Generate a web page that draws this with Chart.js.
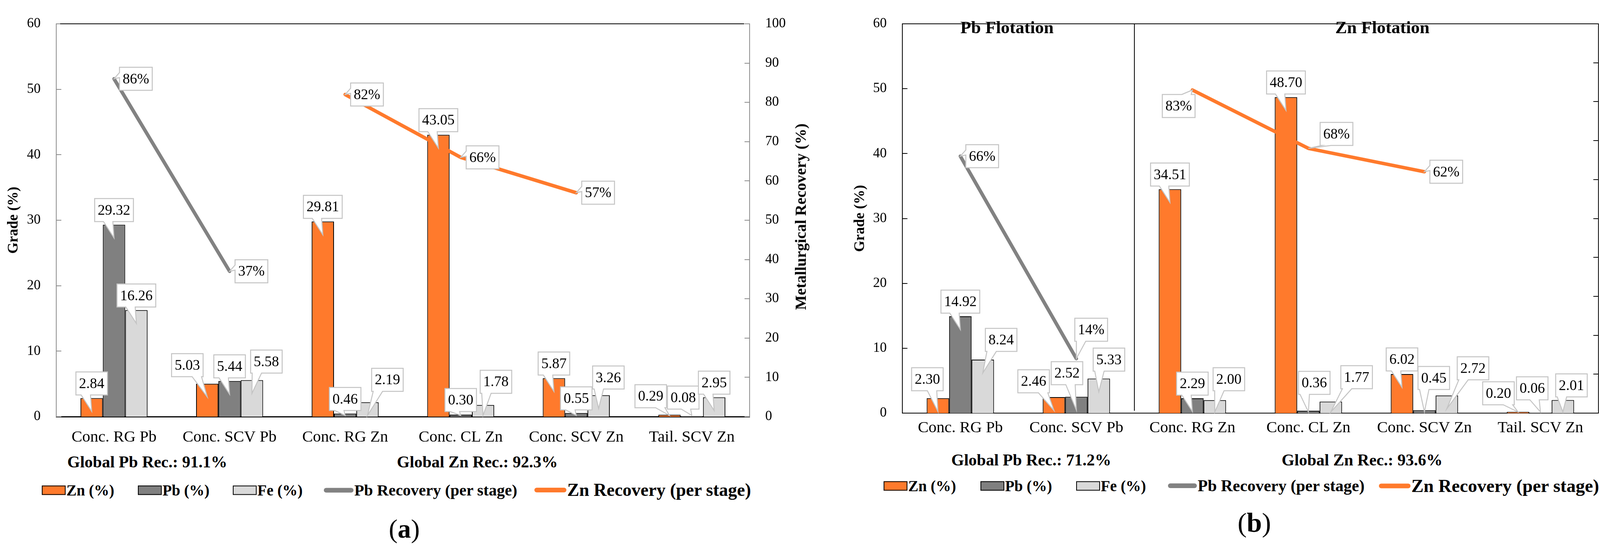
<!DOCTYPE html>
<html>
<head>
<meta charset="utf-8">
<script src="https://cdn.jsdelivr.net/npm/chart.js@4.4.1/dist/chart.umd.min.js"></script>
<style>
  html, body { margin: 0; padding: 0; background: #fff; }
  body { position: relative; width: 4272px; height: 1406px; overflow: hidden; font-family: 'Liberation Serif', serif; color: #000; }
  .wrap { position: absolute; }
  .t { position: absolute; transform: translate(-50%, -50%); white-space: nowrap; line-height: 1; }
  .rot { transform: translate(-50%, -50%) rotate(-90deg); }
  .b { font-weight: bold; }
  .lg { position: absolute; display: flex; align-items: center; transform: translateY(-50%); font-weight: bold; white-space: nowrap; line-height: 1; }
  .sw { display: inline-block; box-sizing: border-box; width: 61px; height: 24px; border: 2px solid #000; margin-right: 2px; }
  .ln { display: inline-block; width: 76px; height: 12px; border-radius: 6px; margin-right: 2px; }
</style>
</head>
<body>

<div class="wrap" style="left:0; top:0; width:2136px; height:1160px"><canvas id="chartA"></canvas></div>
<div class="wrap" style="left:2140px; top:0; width:2132px; height:1150px"><canvas id="chartB"></canvas></div>

<!-- panel (a) texts -->
<div class="t rot b" style="left:2050px; top:555px; font-size:40px">Metallurgical Recovery (%)</div>
<div class="t b" style="left:377px; top:1183px; font-size:42px">Global Pb Rec.: 91.1%</div>
<div class="t b" style="left:1222px; top:1183px; font-size:42px">Global Zn Rec.: 92.3%</div>
<div class="lg" style="left:107px; top:1255px; font-size:39px"><span class="sw" style="background:#FF7A2C"></span>Zn (%)</div>
<div class="lg" style="left:353px; top:1255px; font-size:39px"><span class="sw" style="background:#808080"></span>Pb (%)</div>
<div class="lg" style="left:596px; top:1255px; font-size:39px"><span class="sw" style="background:#D9D9D9"></span>Fe (%)</div>
<div class="lg" style="left:829px; top:1255px; font-size:41px"><span class="ln" style="background:#828282"></span>Pb Recovery (per stage)</div>
<div class="lg" style="left:1368px; top:1255px; font-size:46px"><span class="ln" style="background:#FF7A2C; width:82px"></span>Zn Recovery (per stage)</div>
<div class="t" style="left:1035px; top:1354px; font-size:68px">(<b>a</b>)</div>

<!-- panel (b) texts -->
<div class="t rot b" style="left:4228px; top:545px; font-size:39px">Metallurgical recovery (%)</div>
<div class="t b" style="left:2578px; top:70px; font-size:45px">Pb Flotation</div>
<div class="t b" style="left:3539px; top:70px; font-size:45px">Zn Flotation</div>
<div class="t b" style="left:2640px; top:1178px; font-size:42px">Global Pb Rec.: 71.2%</div>
<div class="t b" style="left:3487px; top:1178px; font-size:42px">Global Zn Rec.: 93.6%</div>
<div class="lg" style="left:2262px; top:1244px; font-size:39px"><span class="sw" style="background:#FF7A2C"></span>Zn (%)</div>
<div class="lg" style="left:2510px; top:1244px; font-size:39px"><span class="sw" style="background:#808080"></span>Pb (%)</div>
<div class="lg" style="left:2755px; top:1244px; font-size:39px"><span class="sw" style="background:#D9D9D9"></span>Fe (%)</div>
<div class="lg" style="left:2990px; top:1244px; font-size:42px"><span class="ln" style="background:#828282; width:74px"></span>Pb Recovery (per stage)</div>
<div class="lg" style="left:3530px; top:1244px; font-size:47px"><span class="ln" style="background:#FF7A2C; width:81px"></span>Zn Recovery (per stage)</div>
<div class="t" style="left:3211px; top:1339px; font-size:70px">(<b>b</b>)</div>

<script>
// categories shared by both panels
var categories = ['Conc. RG Pb', 'Conc. SCV Pb', 'Conc. RG Zn', 'Conc. CL Zn', 'Conc. SCV Zn', 'Tail. SCV Zn'];

// panel (a): grades (%) and per stage recovery (%)
var znGradeA = [2.84, 5.03, 29.81, 43.05, 5.87, 0.29];
var pbGradeA = [29.32, 5.44, 0.46, 0.30, 0.55, 0.08];
var feGradeA = [16.26, 5.58, 2.19, 1.78, 3.26, 2.95];
var pbRecA = [86, 37, null, null, null, null];
var znRecA = [null, null, 82, 66, 57, null];

// panel (b)
var znGradeB = [2.30, 2.46, 34.51, 48.70, 6.02, 0.20];
var pbGradeB = [14.92, 2.52, 2.29, 0.36, 0.45, 0.06];
var feGradeB = [8.24, 5.33, 2.00, 1.77, 2.72, 2.01];
var pbRecB = [66, 14, null, null, null, null];
var znRecB = [null, null, 83, 68, 62, null];

var ORANGE = '#FF7A2C';
var FONT = "'Liberation Serif', serif";

// callout label nudges [dx, dy] per dataset (Zn, Pb, Fe, Pb rec, Zn rec)
var nudgeA = [
    [[0, 0], [-51, -10], [0, 0], [0, 0], [0, 0], [-48, -10]],
    [[0, 0], [0, 0], [0, 0], [0, 0], [0, 0], [-22, -10]],
    [[0, 0], [37, -10], [51, -20], [33, -22], [25, -8], [0, 0]],
    [],
    []
];
var nudgeB = [
    [[-27, -11], [-52, -3], [0, 0], [0, 0], [0, 0], [-50, -10]],
    [[0, 0], [-24, -23], [0, 0], [15, -34], [24, -45], [-21, -25]],
    [[47, -13], [26, -11], [36, -16], [66, -25], [67, -32], [22, 0]],
    [[0, 0], [-18, -74]],
    [null, null, [-91, 41], [16, -37], [0, 0]]
];

function clamp(v, lo, hi) {
    return Math.max(lo, Math.min(hi, v));
}

function drawCallout(ctx, box, tip, text) {
    var l = box.l, r = box.r, t = box.t, b = box.b;
    var edge;
    if (tip.y > b) edge = 'bottom';
    else if (tip.y < t) edge = 'top';
    else if (tip.x < l) edge = 'left';
    else edge = 'right';

    var x0 = clamp(tip.x - 27, l + 4, r - 28), x1 = x0 + 24;
    var y0 = clamp(tip.y - 16, t + 4, b - 17), y1 = y0 + 13;

    ctx.beginPath();
    ctx.moveTo(l, t);
    if (edge === 'top') { ctx.lineTo(x0, t); ctx.lineTo(tip.x, tip.y); ctx.lineTo(x1, t); }
    ctx.lineTo(r, t);
    if (edge === 'right') { ctx.lineTo(r, y0); ctx.lineTo(tip.x, tip.y); ctx.lineTo(r, y1); }
    ctx.lineTo(r, b);
    if (edge === 'bottom') { ctx.lineTo(x1, b); ctx.lineTo(tip.x, tip.y); ctx.lineTo(x0, b); }
    ctx.lineTo(l, b);
    if (edge === 'left') { ctx.lineTo(l, y1); ctx.lineTo(tip.x, tip.y); ctx.lineTo(l, y0); }
    ctx.closePath();
    ctx.fillStyle = '#fff';
    ctx.fill();
    ctx.lineWidth = 2.5;
    ctx.strokeStyle = '#c4c4c4';
    ctx.stroke();

    ctx.fillStyle = '#000';
    ctx.fillText(text, (l + r) / 2, (t + b) / 2 + 2);
}

function panelPlugin(cfg) {
    return {
        id: 'panelDecor',
        beforeDatasetsDraw: function(chart) {
            var ctx = chart.ctx, area = chart.chartArea;
            var ya = chart.scales.y, yb = chart.scales.y1;
            ctx.save();
            ctx.lineWidth = 2;
            ctx.strokeStyle = cfg.axisColor;
            ctx.beginPath();
            ya.ticks.forEach(function(t) {
                var py = Math.round(ya.getPixelForValue(t.value));
                ctx.moveTo(area.left, py);
                ctx.lineTo(area.left + 13, py);
            });
            yb.ticks.forEach(function(t) {
                var py = Math.round(yb.getPixelForValue(t.value));
                ctx.moveTo(area.right - 13, py);
                ctx.lineTo(area.right, py);
            });
            ctx.stroke();

            ctx.strokeStyle = '#000';
            ctx.lineWidth = cfg.topWidth;
            ctx.beginPath();
            ctx.moveTo(area.left + cfg.topInset[0], area.top);
            ctx.lineTo(area.right - cfg.topInset[1], area.top);
            ctx.stroke();

            if (cfg.divider) {
                var xs = chart.scales.x;
                var dx = Math.round((xs.getPixelForValue(1) + xs.getPixelForValue(2)) / 2);
                ctx.lineWidth = 2;
                ctx.beginPath();
                ctx.moveTo(dx, area.top);
                ctx.lineTo(dx, area.bottom - 6);
                ctx.stroke();
            }
            ctx.restore();
        },
        afterDatasetsDraw: function(chart) {
            var ctx = chart.ctx;
            ctx.save();
            ctx.font = '37px ' + FONT;
            ctx.textAlign = 'center';
            ctx.textBaseline = 'middle';
            chart.data.datasets.forEach(function(ds, di) {
                var meta = chart.getDatasetMeta(di);
                ds.data.forEach(function(v, i) {
                    if (v === null || v === undefined) return;
                    var el = meta.data[i];
                    var nd = (cfg.nudge[di] && cfg.nudge[di][i]) || [0, 0];
                    var isLine = ds.type === 'line';
                    var text = isLine ? v + '%' : v.toFixed(2);
                    var w = ctx.measureText(text).width + 16, h = 59;
                    var box, tip;
                    if (isLine) {
                        var l = el.x + 14 + nd[0], cy = el.y + nd[1];
                        box = { l: l, r: l + w, t: cy - h / 2, b: cy + h / 2 };
                        tip = { x: el.x, y: el.y };
                    } else {
                        var cx = el.x + nd[0], bb = el.y - 8 + nd[1];
                        box = { l: cx - w / 2, r: cx + w / 2, t: bb - h, b: bb };
                        tip = { x: el.x, y: Math.min(el.y + 34, el.base - 3) };
                    }
                    drawCallout(ctx, box, tip, text);
                });
            });
            ctx.restore();
        }
    };
}

function buildChart(id, p) {
    var ctx = document.getElementById(id);
    return new Chart(ctx, {
        type: 'bar',
        data: {
            labels: categories,
            datasets: [
                { label: 'Zn (%)', data: p.zn, backgroundColor: ORANGE, borderColor: '#000', borderWidth: 2, yAxisID: 'y', order: 1 },
                { label: 'Pb (%)', data: p.pb, backgroundColor: '#808080', borderColor: '#000', borderWidth: 2, yAxisID: 'y', order: 1 },
                { label: 'Fe (%)', data: p.fe, backgroundColor: '#D9D9D9', borderColor: '#000', borderWidth: 2, yAxisID: 'y', order: 1 },
                { type: 'line', label: 'Pb Recovery (per stage)', data: p.pbRec, borderColor: '#828282', borderWidth: 9,
                  borderCapStyle: 'round', pointRadius: 0, tension: 0, yAxisID: 'y1', order: 0 },
                { type: 'line', label: 'Zn Recovery (per stage)', data: p.znRec, borderColor: ORANGE, borderWidth: 9,
                  borderCapStyle: 'round', pointRadius: 0, tension: 0, yAxisID: 'y1', order: 0 }
            ]
        },
        options: {
            responsive: true,
            maintainAspectRatio: false,
            animation: false,
            devicePixelRatio: 1,
            categoryPercentage: 0.58,
            barPercentage: 1.0,
            layout: { padding: { top: p.top, left: 0, right: 0, bottom: 0 } },
            plugins: { legend: { display: false }, tooltip: { enabled: false } },
            scales: {
                x: {
                    grid: { display: false, drawTicks: false },
                    border: { display: true, color: '#000', width: p.bottomWidth },
                    ticks: { font: { family: FONT, size: 41 }, color: '#000', padding: p.xPad, maxRotation: 0, autoSkip: false },
                    afterFit: function(s) { s.height = p.xHeight; }
                },
                y: {
                    position: 'left',
                    min: 0, max: 60,
                    grid: { display: false, drawTicks: false },
                    border: { display: true, color: p.axisColor, width: 2 },
                    ticks: { stepSize: 10, font: { family: FONT, size: 35 }, color: '#000', padding: 40 },
                    title: { display: true, text: 'Grade (%)', color: '#000',
                             font: { family: FONT, size: 37, weight: 'bold', lineHeight: 1.2 },
                             padding: { top: p.titlePad, bottom: 0 } },
                    afterFit: function(s) { s.width = p.leftWidth; }
                },
                y1: {
                    position: 'right',
                    min: 0, max: 100,
                    grid: { display: false, drawTicks: false },
                    border: { display: true, color: p.axisColor, width: 2 },
                    ticks: { stepSize: 10, font: { family: FONT, size: 35 }, color: '#000', padding: 40 },
                    afterFit: function(s) { s.width = p.rightWidth; }
                }
            }
        },
        plugins: [panelPlugin({ axisColor: p.axisColor, topWidth: 2, topInset: p.topInset, divider: p.divider, nudge: p.nudge })]
    });
}

buildChart('chartA', {
    zn: znGradeA, pb: pbGradeA, fe: feGradeA, pbRec: pbRecA, znRec: znRecA,
    top: 42, xHeight: 93, xPad: 29, leftWidth: 144, rightWidth: 217, titlePad: 13,
    axisColor: '#8c8c8c', bottomWidth: 3, topInset: [10, 14], divider: false, nudge: nudgeA
});

buildChart('chartB', {
    zn: znGradeB, pb: pbGradeB, fe: feGradeB, pbRec: pbRecB, znRec: znRecB,
    top: 32, xHeight: 92, xPad: 14, leftWidth: 170, rightWidth: 180, titlePad: 40,
    axisColor: '#000', bottomWidth: 2, topInset: [0, 0], divider: true, nudge: nudgeB
});
</script>
</body>
</html>
